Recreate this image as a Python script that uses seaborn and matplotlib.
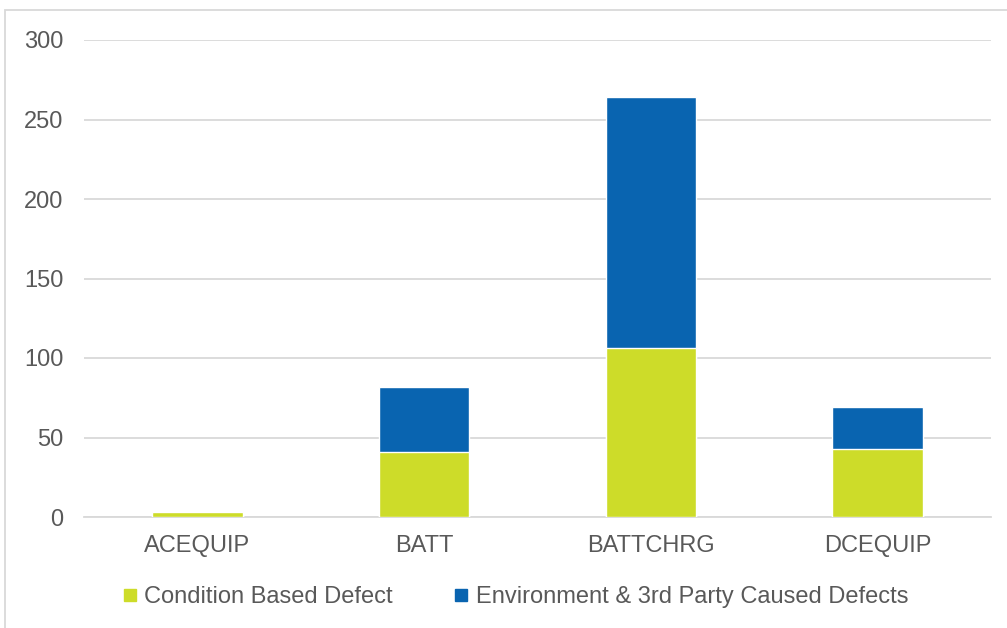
import matplotlib
matplotlib.use("Agg")
import matplotlib.pyplot as plt
import seaborn as sns
import pandas as pd
from matplotlib.patches import Rectangle
from matplotlib.lines import Line2D

categories = ["ACEQUIP", "BATT", "BATTCHRG", "DCEQUIP"]
condition_based = [3, 41, 106, 43]
environment_3rd_party = [0, 41, 158, 26]
y_ticks = [0, 50, 100, 150, 200, 250, 300]

series_names = ["Condition Based Defect", "Environment & 3rd Party Caused Defects"]
green = "#CDDC29"
blue = "#0964B0"
text_color = "#595959"
grid_color = "#D9D9D9"

df = pd.DataFrame({
    "category": categories,
    "condition": condition_based,
    "environment": environment_3rd_party,
})
df["total"] = df["condition"] + df["environment"]

sns.set_theme(style="white")
plt.rcParams["font.family"] = ["Liberation Sans", "DejaVu Sans"]

fig = plt.figure(figsize=(10.07, 6.28), dpi=100)
ax = fig.add_axes([84 / 1007, 1 - 517 / 628, (991 - 84) / 1007, (517 - 40) / 628])

sns.barplot(data=df, x="category", y="total", color=blue, width=0.4,
            saturation=1, ax=ax, zorder=3)
sns.barplot(data=df, x="category", y="condition", color=green, width=0.4,
            saturation=1, ax=ax, zorder=4)

ax.set_ylim(0, 300)
ax.set_xlim(-0.5, 3.5)
ax.set_yticks(y_ticks)
ax.set_xlabel("")
ax.set_ylabel("")
ax.yaxis.grid(True, color=grid_color, linewidth=1.3, zorder=0)
ax.set_axisbelow(True)
for s in ["top", "right", "left"]:
    ax.spines[s].set_visible(False)
ax.spines["bottom"].set_color(grid_color)
ax.spines["bottom"].set_linewidth(1.3)
ax.tick_params(axis="y", length=0, pad=15, labelsize=17, labelcolor=text_color)
ax.tick_params(axis="x", length=0, pad=13, labelsize=17, labelcolor=text_color)

handles = [
    Line2D([0], [0], marker="s", linestyle="none", markersize=8,
           markerfacecolor=green, markeredgecolor=green),
    Line2D([0], [0], marker="s", linestyle="none", markersize=8,
           markerfacecolor=blue, markeredgecolor=blue),
]
leg = fig.legend(handles, series_names, loc="center", ncol=2,
                 bbox_to_anchor=(0.512, 1 - 597 / 628), frameon=False,
                 fontsize=17, handlelength=0.6, handletextpad=0.3,
                 columnspacing=2.6, labelcolor=text_color)

fig.patches.append(Rectangle((5 / 1007, -0.1), 1.2, 1 - 10 / 628 + 0.1,
                             transform=fig.transFigure, fill=False,
                             edgecolor=grid_color, linewidth=1.3))

fig.savefig("out.png", dpi=100)
